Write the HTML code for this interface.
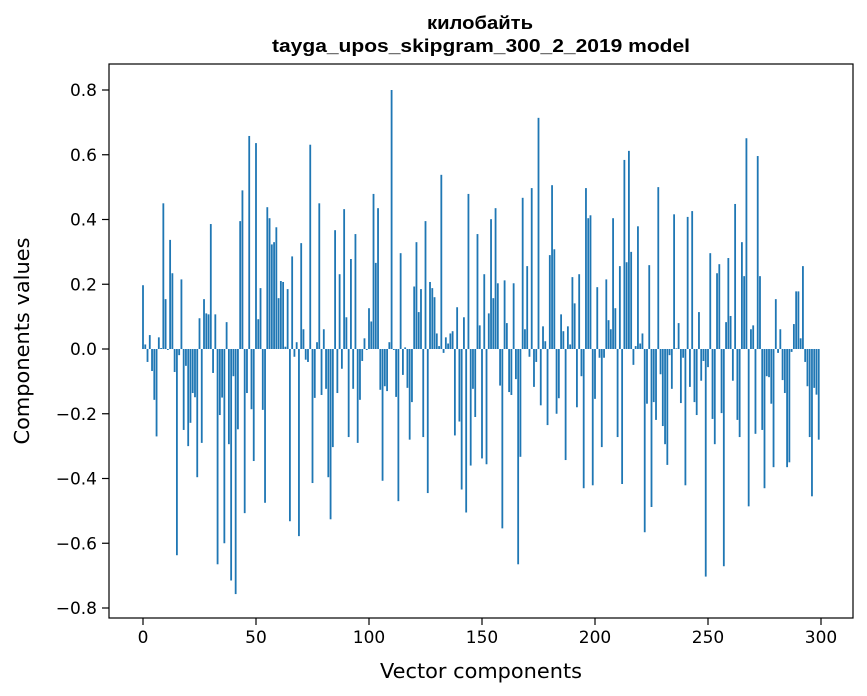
<!DOCTYPE html>
<html><head><meta charset="utf-8"><style>
body{margin:0;background:#fff;}
svg{display:block;font-family:"DejaVu Sans","Liberation Sans",sans-serif;}
</style></head><body>
<svg id="chart" width="867" height="696" viewBox="0 0 867 696">
<text x="480" y="29" text-anchor="middle" font-weight="bold" font-size="18" font-family="Liberation Sans, sans-serif" textLength="106" lengthAdjust="spacingAndGlyphs">килобайть</text>
<text x="481" y="52" text-anchor="middle" font-weight="bold" font-size="18" font-family="Liberation Sans, sans-serif" textLength="418" lengthAdjust="spacingAndGlyphs">tayga_upos_skipgram_300_2_2019 model</text>
<g id="bars"></g>
<g id="axes"></g>
<text x="481" y="678" text-anchor="middle" font-size="20" textLength="202" lengthAdjust="spacingAndGlyphs">Vector components</text>
<text transform="translate(29,341) rotate(-90)" text-anchor="middle" font-size="20" textLength="207" lengthAdjust="spacingAndGlyphs">Components values</text>
</svg>
<script>
const values = [0.197,0.014,-0.04,0.043,-0.068,-0.157,-0.27,0.036,0.003,0.45,
0.154,-0.003,0.337,0.234,-0.071,-0.637,-0.019,0.215,-0.25,-0.052,
-0.3,-0.228,-0.136,-0.149,-0.396,0.095,-0.29,0.154,0.11,0.107,
0.386,-0.074,0.107,-0.665,-0.204,-0.15,-0.6,0.083,-0.294,-0.715,
-0.084,-0.757,-0.248,0.395,0.49,-0.507,-0.136,0.658,-0.186,-0.346,
0.636,0.092,0.188,-0.188,-0.475,0.438,0.404,0.323,0.33,0.376,
0.157,0.21,0.207,0.007,0.185,-0.532,0.286,-0.024,0.021,-0.578,
0.327,0.061,-0.033,-0.04,0.631,-0.414,-0.151,0.021,0.45,-0.142,
0.061,-0.123,-0.396,-0.526,-0.303,0.367,-0.136,0.231,-0.061,0.432,
0.098,-0.272,0.278,-0.123,0.355,-0.29,-0.157,-0.037,0.033,-0.003,
0.126,0.085,0.479,0.266,0.435,-0.126,-0.407,-0.115,-0.13,0.021,
0.8,-0.003,-0.148,-0.47,0.296,-0.08,0.005,-0.12,-0.28,-0.164,
0.193,0.33,0.114,0.185,-0.272,0.395,-0.445,0.207,0.188,0.16,
0.048,0.009,0.538,-0.012,0.036,0.017,0.048,0.055,-0.267,0.129,
-0.224,-0.434,0.098,-0.505,0.479,-0.36,-0.123,-0.21,0.355,0.073,
-0.338,0.231,-0.356,0.11,0.401,0.157,0.435,0.203,-0.113,-0.554,
0.212,0.08,-0.133,-0.142,0.203,-0.093,-0.665,-0.333,0.467,0.061,
0.256,-0.024,0.497,-0.117,-0.04,0.714,-0.174,0.07,0.024,-0.235,
0.29,0.506,0.308,-0.2,-0.152,0.107,0.055,-0.343,0.07,0.014,
0.222,0.141,-0.18,0.231,-0.084,-0.43,0.497,0.404,0.413,-0.421,
-0.154,0.191,-0.027,-0.303,-0.027,0.215,0.089,0.061,0.404,0.126,
-0.272,0.256,-0.417,0.584,0.268,0.612,0.3,-0.049,0.009,0.379,
0.017,0.048,-0.566,-0.169,0.259,-0.488,-0.164,-0.219,0.5,-0.078,
-0.238,-0.294,-0.358,-0.019,-0.123,0.416,0.002,0.08,-0.167,-0.027,
-0.421,0.408,-0.117,0.426,-0.164,-0.204,0.114,-0.098,-0.037,-0.703,
-0.056,0.296,-0.216,-0.294,0.234,0.262,-0.198,-0.671,0.083,0.281,
0.102,-0.098,0.448,-0.219,-0.272,0.33,0.225,0.651,-0.486,0.061,
0.073,-0.262,0.596,0.225,-0.25,-0.43,-0.084,-0.087,-0.169,-0.365,
0.154,-0.012,0.061,-0.096,-0.136,-0.365,-0.35,-0.009,0.077,0.178,
0.178,0.033,0.256,-0.04,-0.115,-0.272,-0.455,-0.12,-0.141,-0.28];
const xTicks = [0,50,100,150,200,250,300];
const yTicks = [-0.8,-0.6,-0.4,-0.2,0.0,0.2,0.4,0.6,0.8];
const yTickLabels = ["\u22120.8","\u22120.6","\u22120.4","\u22120.2","0.0","0.2","0.4","0.6","0.8"];

const NS="http://www.w3.org/2000/svg";
const L=109,R=853,T=64,B=618;
const xs=v=>143+v*(821-143)/300;
const ys=v=>349-v*323.75;
const bars=document.getElementById('bars');
values.forEach((v,i)=>{
  const r=document.createElementNS(NS,'rect');
  
  
  const w=0.8*(821-143)/300;
  r.setAttribute('x',xs(i)-w/2);
  r.setAttribute('width',w);
  r.setAttribute('y',Math.min(ys(v),ys(0)));
  r.setAttribute('height',Math.abs(ys(v)-ys(0)));
  r.setAttribute('fill','#1f77b4');
  bars.appendChild(r);
});
const ax=document.getElementById('axes');
const frame=document.createElementNS(NS,'rect');


frame.setAttribute('x',L);frame.setAttribute('y',T);
frame.setAttribute('width',R-L);frame.setAttribute('height',B-T);
frame.setAttribute('fill','none');frame.setAttribute('stroke','#000');frame.setAttribute('stroke-width','1.2');
ax.appendChild(frame);
xTicks.forEach(t=>{
  const x=xs(t);
  const l=document.createElementNS(NS,'line');
  
  
  l.setAttribute('x1',x);l.setAttribute('x2',x);l.setAttribute('y1',B);l.setAttribute('y2',B+7);
  l.setAttribute('stroke','#000');l.setAttribute('stroke-width','1.2');
  ax.appendChild(l);
  const tx=document.createElementNS(NS,'text');
  
  
  tx.setAttribute('x',x);tx.setAttribute('y',643);
  tx.setAttribute('text-anchor','middle');tx.setAttribute('font-size','17');
  tx.textContent=t;
  ax.appendChild(tx);
});
yTicks.forEach((t,k)=>{
  const y=ys(t);
  const l=document.createElementNS(NS,'line');
  
  
  l.setAttribute('x1',L-7);l.setAttribute('x2',L);l.setAttribute('y1',y);l.setAttribute('y2',y);
  l.setAttribute('stroke','#000');l.setAttribute('stroke-width','1.2');
  ax.appendChild(l);
  const tx=document.createElementNS(NS,'text');
  
  
  tx.setAttribute('x',L-12);tx.setAttribute('y',y+6);
  tx.setAttribute('text-anchor','end');tx.setAttribute('font-size','17');
  tx.textContent=yTickLabels[k];
  ax.appendChild(tx);
});
</script>
</body></html>
